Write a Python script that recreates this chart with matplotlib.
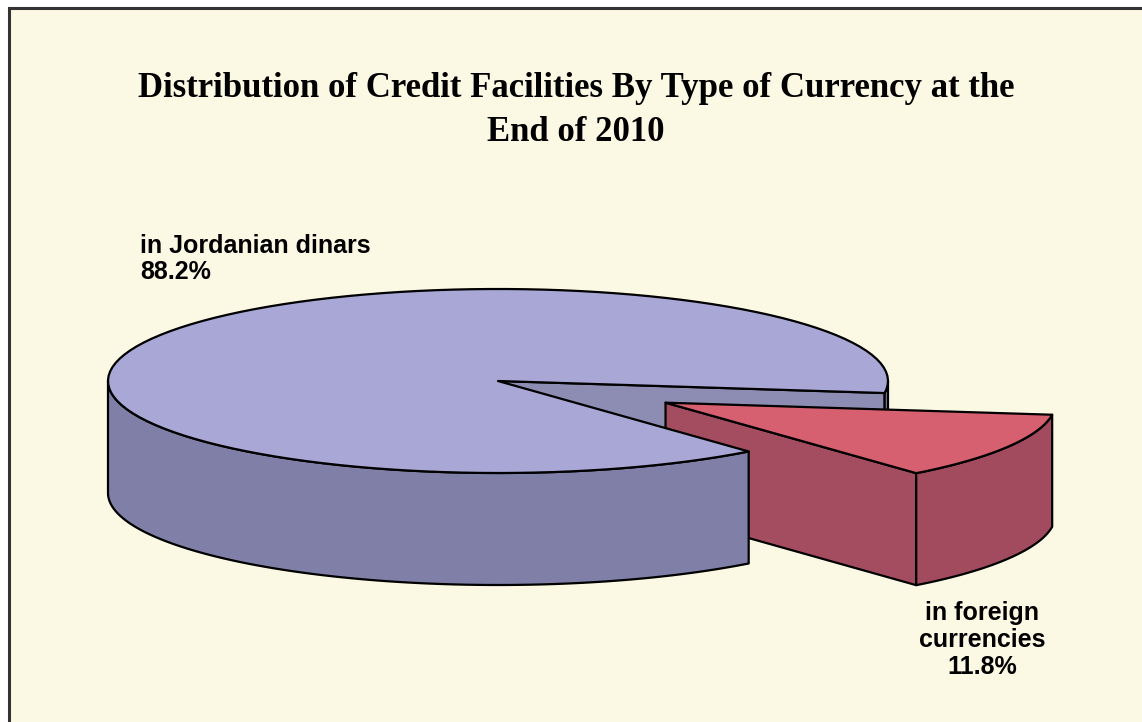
import numpy as np
import matplotlib.pyplot as plt
from matplotlib.patches import Polygon, Rectangle

# shares of credit facilities, end of 2010 (%)
labels = ['in Jordanian dinars', 'in foreign\ncurrencies']
shares = [88.2, 11.8]
title = 'Distribution of Credit Facilities By Type of Currency at the\nEnd of 2010'

# look of the 3d pie (pixel units)
cx, cy = 498, 381          # centre of the top face
rx, ry = 390, 92           # ellipse radii
depth = 112                # thickness of the disc
explode = 0.49             # offset of the foreign slice, in radii
start = -50.0              # angle where the foreign slice starts

top_cols = ['#A9A7D6', '#D6606F']
side_cols = ['#7F7FA7', '#A24B5E']
cut_cols = ['#8D8DB3', '#A54D60']
bg = '#FBF8E3'


def pt(t, off=(0, 0), z=0, r=1.0):
    a = np.radians(t)
    return (cx + off[0] + r * rx * np.cos(a), cy + off[1] - r * ry * np.sin(a) + z)


def arc(t0, t1, off=(0, 0), z=0, n=120):
    return [pt(t, off, z) for t in np.linspace(t0, t1, n)]


def face(ax, pts, col):
    ax.add_patch(Polygon(pts, closed=True, facecolor=col, edgecolor='black',
                         linewidth=1.6, joinstyle='round'))


fig = plt.figure(figsize=(11.42, 7.22), dpi=100)
ax = fig.add_axes([0, 0, 1, 1])
ax.set_xlim(0, 1142)
ax.set_ylim(722, 0)
ax.axis('off')

# cream panel with its frame
ax.add_patch(Rectangle((9, 8), 1200, 800, facecolor=bg, edgecolor='#333333', linewidth=2.2))

spans = [s / 100 * 360 for s in shares]
f0, f1 = start, start + spans[1]           # foreign slice
m0, m1 = f1, start + 360                   # jordanian dinars slice
mid = np.radians((f0 + f1) / 2)
off = (explode * rx * np.cos(mid), -explode * ry * np.sin(mid))
C = pt(0, r=0)
A = pt(0, off, r=0)

# main slice, faces that sit behind the foreign slice
p1 = pt(m0)
face(ax, [C, p1, (p1[0], p1[1] + depth), (C[0], C[1] + depth)], cut_cols[0])
face(ax, arc(m0, 0) + arc(0, m0, z=depth), side_cols[0])

# exploded foreign slice
q0 = pt(f0, off)
face(ax, [A, q0, (q0[0], q0[1] + depth), (A[0], A[1] + depth)], cut_cols[1])
face(ax, arc(f0, f1, off) + arc(f1, f0, off, z=depth), side_cols[1])
face(ax, [A] + arc(f0, f1, off), top_cols[1])

# front rim and top of the main slice
face(ax, arc(180, m1) + arc(m1, 180, z=depth), side_cols[0])
face(ax, [C] + arc(m0, m1), top_cols[0])

ax.text(576, 141, title, ha='center', va='baseline', fontsize=25,
        family='Liberation Serif', fontweight='bold', linespacing=1.45)

lab_font = dict(family='Liberation Sans', fontweight='bold', fontsize=18,
                va='center', linespacing=1.15)
ax.text(140, 259, f'{labels[0]}\n{shares[0]:.1f}%', ha='left', ma='left', **lab_font)
ax.text(982, 640, f'{labels[1]}\n{shares[1]:.1f}%', ha='center', ma='center', **lab_font)

fig.savefig('out.png', dpi=100, facecolor='white')
